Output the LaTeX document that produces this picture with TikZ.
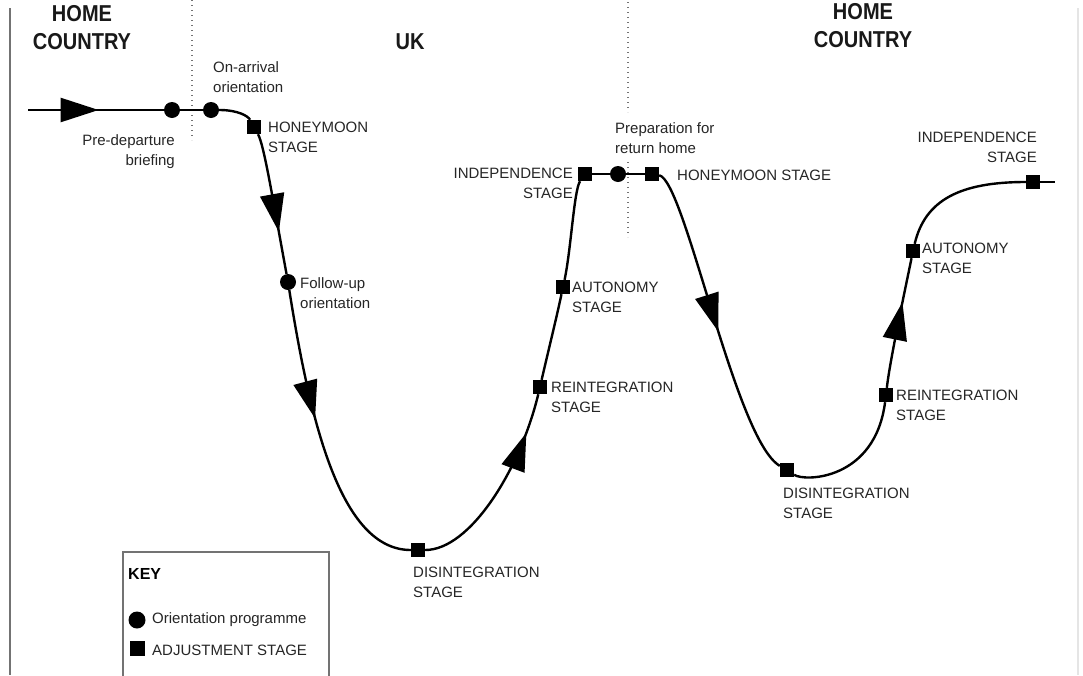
\documentclass[tikz,border=0pt]{standalone}
\usepackage{fontspec}
\setmainfont{Liberation Sans}
\usetikzlibrary{arrows.meta,decorations.markings}

\tikzset{
  curve/.style={line width=2.4pt, black},
  flowarrow/.style={postaction={decorate,decoration={markings,
      mark=at position #1 with {\arrow{Triangle[length=38pt,width=24pt]}}}}},
  orient/.style={circle, fill=black, minimum size=16pt, inner sep=0pt},
  stage/.style={rectangle, fill=black, minimum size=14pt, inner sep=0pt},
  lbl/.style={font=\fontsize{15}{20}\selectfont, text=black!85, inner sep=0pt},
  head/.style={font=\bfseries\fontsize{23}{28}\selectfont, text=black!90, inner sep=0pt,
               align=center, xscale=0.87, transform shape},
  divider/.style={black!55, line width=1.4pt, dash pattern=on 1.4pt off 3.6pt},
}

\begin{document}
\begin{tikzpicture}[x=1pt,y=-1pt]
\useasboundingbox[fill=white] (0,0) rectangle (1083,675);

% page edges
\draw[black!55, line width=2.5pt] (10,8) -- (10,675);
\draw[black!10, line width=1.5pt] (1078,8) -- (1078,675);

% headings
\node[head] (homeL) at (82,28) {HOME\\COUNTRY};
\node[head] (uk) at (410,42) {UK};
\node[head] (homeR) at (863,26) {HOME\\COUNTRY};

% border crossings
\draw[divider] (192,0) -- (192,140);
\draw[divider] (628,2) -- (628,112);
\draw[divider] (628,162) -- (628,237);

% orientation points and adjustment stages
\coordinate (start) at (28,110);
\node[orient] (c1) at (172,110) {};
\node[orient] (c2) at (211,110) {};
\node[stage]  (q1) at (254,127) {};
\node[orient] (c3) at (288,282) {};
\node[stage]  (q2) at (418,550) {};
\node[stage]  (q3) at (540,387) {};
\node[stage]  (q4) at (563,287) {};
\node[stage]  (q5) at (585,174) {};
\node[orient] (c4) at (618,174) {};
\node[stage]  (q6) at (652,174) {};
\node[stage]  (q7) at (787,470) {};
\node[stage]  (q8) at (886,395) {};
\node[stage]  (q9) at (913,251) {};
\node[stage]  (q10) at (1033,182) {};
\coordinate (finish) at (1055,182);

% the adjustment curve
\draw[curve, flowarrow=0.52] (start) -- (c1);
\draw[curve] (c1) -- (c2);
\draw[curve] (c2) .. controls (238,110) and (248,116) .. (q1);
\draw[curve, flowarrow=0.7] (q1) .. controls (264,145) and (272,195) .. (c3);
\draw[curve, flowarrow=0.43] (c3) .. controls (310,420) and (340,550) .. (q2);
\draw[curve, flowarrow=0.8] (q2) .. controls (470,550) and (520,470) .. (q3);
\draw[curve] (q3) .. controls (548,352) and (556,320) .. (q4);
\draw[curve] (q4) .. controls (571,250) and (574,190) .. (q5);
\draw[curve] (q5) -- (c4);
\draw[curve] (c4) -- (q6);
\draw[curve, flowarrow=0.53] (q6) .. controls (685,180) and (735,440) .. (q7);
\draw[curve] (q7) .. controls (805,482) and (875,480) .. (q8);
\draw[curve, flowarrow=0.66] (q8) .. controls (890,360) and (905,290) .. (q9);
\draw[curve] (q9) .. controls (925,200) and (960,182) .. (q10);
\draw[curve] (q10) -- (finish);

% labels
\node[lbl, anchor=west, align=left] (l-arrival) at (213,77) {On-arrival\\orientation};
\node[lbl, anchor=east, align=right] (l-predep) at (175,152) {Pre-departure\\briefing};
\node[lbl, anchor=west, align=left] (l-honey1) at (268,137) {HONEYMOON\\STAGE};
\node[lbl, anchor=west, align=left] (l-follow) at (300,293) {Follow-up\\orientation};
\node[lbl, anchor=west, align=left] (l-disint1) at (413,582) {DISINTEGRATION\\STAGE};
\node[lbl, anchor=west, align=left] (l-reint1) at (551,397) {REINTEGRATION\\STAGE};
\node[lbl, anchor=west, align=left] (l-auto1) at (572,297) {AUTONOMY\\STAGE};
\node[lbl, anchor=east, align=right] (l-indep1) at (573,183) {INDEPENDENCE\\STAGE};
\node[lbl, anchor=west, align=left] (l-prep) at (615,138) {Preparation for\\return home};
\node[lbl, anchor=west] (l-honey2) at (677,175) {HONEYMOON STAGE};
\node[lbl, anchor=east, align=right] (l-indep2) at (1037,147) {INDEPENDENCE\\STAGE};
\node[lbl, anchor=west, align=left] (l-auto2) at (922,258) {AUTONOMY\\STAGE};
\node[lbl, anchor=west, align=left] (l-reint2) at (896,405) {REINTEGRATION\\STAGE};
\node[lbl, anchor=west, align=left] (l-disint2) at (783,503) {DISINTEGRATION\\STAGE};

% key
\draw[black!55, line width=1.3pt] (123,676) |- (329,552) -- (329,676);
\node[font=\bfseries\fontsize{16}{20}\selectfont, anchor=west, inner sep=0pt] (keytitle) at (128,574) {KEY};
\node[orient, minimum size=17pt] (keydot) at (137,620) {};
\node[lbl, anchor=west] (keydottext) at (152,620) {Orientation programme};
\node[stage, minimum size=15pt] (keysq) at (137,648) {};
\node[lbl, anchor=west] (keysqtext) at (152,650) {ADJUSTMENT STAGE};
\end{tikzpicture}
\end{document}
